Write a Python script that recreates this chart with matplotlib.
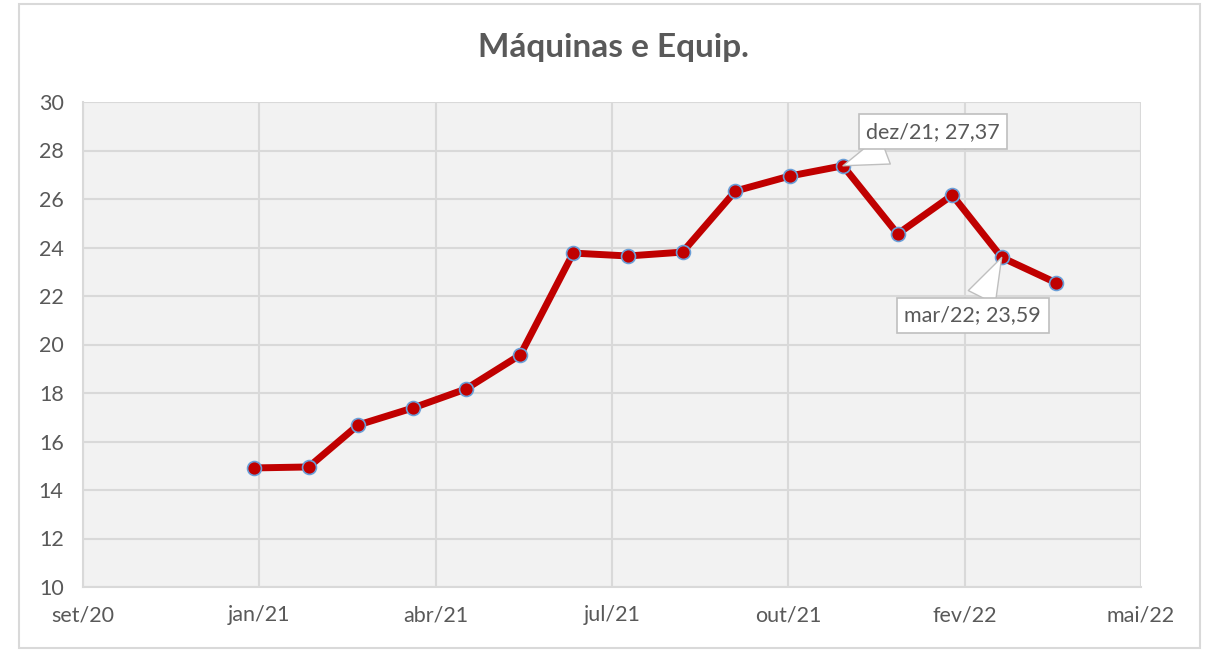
import datetime as dt
import matplotlib
matplotlib.use('Agg')
import matplotlib.pyplot as plt
from matplotlib.patches import Rectangle

# monthly series (first day of each month)
months = ['2021-01', '2021-02', '2021-03', '2021-04', '2021-05', '2021-06',
          '2021-07', '2021-08', '2021-09', '2021-10', '2021-11', '2021-12',
          '2022-01', '2022-02', '2022-03', '2022-04']
values = [14.91, 14.95, 16.68, 17.38, 18.16, 19.57,
          23.77, 23.65, 23.81, 26.33, 26.95, 27.37,
          24.56, 26.16, 23.59, 22.54]

pt_months = ['jan', 'fev', 'mar', 'abr', 'mai', 'jun',
             'jul', 'ago', 'set', 'out', 'nov', 'dez']

# labelled points
labelled = ['2021-12', '2022-03']

title = 'Máquinas e Equip.'
txt_gray = '#595959'
grid_gray = '#D9D9D9'

plt.rcParams['font.family'] = ['Lato', 'DejaVu Sans']

dates = [dt.datetime.strptime(m, '%Y-%m') for m in months]

fig = plt.figure(figsize=(12.07, 6.5), dpi=100)
fig.patches.append(Rectangle((19 / 1207, 2 / 650), 1181 / 1207, 644 / 650,
                             transform=fig.transFigure, fill=False,
                             ec='#D9D9D9', lw=1.5))
ax = fig.add_axes([83 / 1207, 63 / 650, 1058 / 1207, 485 / 650])
ax.set_facecolor('#F2F2F2')

ax.plot(dates, values, color='#C00000', lw=5, marker='o', ms=10,
        mfc='#C00000', mec='#6A9FD8', mew=1.2, zorder=3)

# excel-like date axis: major unit 100 days
x0 = dt.datetime(2020, 9, 26)
ticks = [x0 + dt.timedelta(days=100 * k) for k in range(7)]
ax.set_xlim(ticks[0], ticks[-1])
ax.set_xticks(ticks)
ax.set_xticklabels([f'{pt_months[t.month - 1]}/{t.strftime("%y")}' for t in ticks])
ax.set_ylim(10, 30)
ax.set_yticks(range(10, 31, 2))

ax.grid(True, color=grid_gray, lw=1.5)
ax.set_axisbelow(True)
for s in ['top', 'right']:
    ax.spines[s].set_visible(False)
for s in ['left', 'bottom']:
    ax.spines[s].set_color(grid_gray)
    ax.spines[s].set_linewidth(1.5)
ax.tick_params(length=0, labelsize=15.5, colors=txt_gray)
ax.tick_params(axis='x', pad=13)
ax.tick_params(axis='y', pad=14)

offsets = {'2021-12': (90, 34), '2022-03': (-29, -58)}
for m in labelled:
    i = months.index(m)
    d = dates[i]
    lab = f'{pt_months[d.month - 1]}/{d.strftime("%y")}; {values[i]:.2f}'.replace('.', ',')
    ax.annotate(lab, (d, values[i]), xytext=offsets[m], textcoords='offset pixels',
                ha='center', va='center', fontsize=15.5, color=txt_gray, zorder=5,
                bbox=dict(boxstyle='square,pad=0.35', fc='white', ec='#BFBFBF', lw=1.2),
                arrowprops=dict(arrowstyle='wedge,tail_width=1.4,shrink_factor=0.5',
                                fc='white', ec='#BFBFBF', lw=1, shrinkA=0, shrinkB=0))

fig.text(613 / 1207, 1 - 48 / 650, title, ha='center', va='center',
         fontsize=24, fontweight='bold', color=txt_gray)

fig.savefig('out.png', dpi=100)
